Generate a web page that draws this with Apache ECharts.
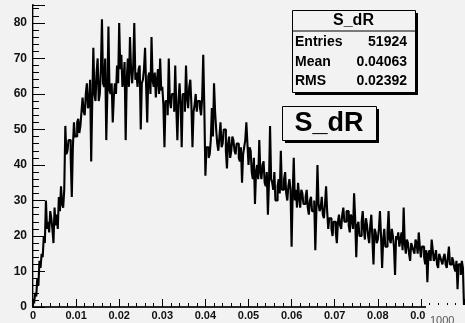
<!DOCTYPE html>
<html>
<head>
<meta charset="utf-8">
<script src="https://cdn.jsdelivr.net/npm/echarts@6/dist/echarts.min.js"></script>
<style>
  html, body { margin: 0; padding: 0; background: #f2f2f2; }
  #chart { width: 465px; height: 323px; }
</style>
</head>
<body>
<div id="chart"></div>
<script>
// S_dR histogram: 400 bins of width 0.00025 over [0, 0.1]
const binLow = 0;
const binWidth = 0.00025;
const counts = [
  2, 1, 4, 3, 8, 6, 13, 11, 15, 14, 20, 18,
  30, 22, 24, 21, 27, 25, 22, 18, 28, 23, 26, 22, 31, 27, 34, 29, 28, 33,
  51, 43, 44, 47, 47, 42, 31, 45, 52, 48, 48, 52, 53, 49, 51, 55,
  59, 55, 54, 60, 63, 56, 57, 64, 41, 58,
  73, 60, 58, 66, 70, 58, 60, 67, 81, 63, 62, 70,
  47, 60, 79, 61, 60, 63, 52, 59, 63, 60,
  68, 63, 80, 67, 71, 62, 64, 69,
  47, 64, 70, 62, 76, 67, 63, 68,
  80, 64, 66, 62, 67, 68, 50, 63,
  64, 67, 73, 62, 52, 65, 66, 60, 76, 64,
  62, 66, 59, 64, 67, 60, 70, 61, 62, 57,
  45, 58, 58, 54, 70, 58, 56, 60, 60, 55, 68, 56,
  47, 58, 63, 57, 45, 60, 60, 55, 68, 59, 56, 62,
  64, 57, 45, 55, 57, 60, 55, 58, 58, 56, 54, 59, 71, 56,
  37, 45, 45, 42, 43, 47, 56, 48, 63, 55, 50, 46,
  44, 48, 52, 45, 46, 50, 50, 44, 39, 46, 48, 42, 44, 48,
  47, 44, 43, 46, 46, 42, 41, 45, 35, 43, 45, 47, 52, 46,
  40, 45, 44, 38, 36, 42, 29, 38, 40, 36, 47, 38, 36, 40, 41, 35, 34, 38, 26, 35,
  51, 36, 35, 33, 38, 30, 30, 34, 36, 32, 44, 33, 33, 36, 38, 32, 30, 34, 36, 33,
  17, 32, 42, 30, 33, 28, 35, 31, 28, 33, 32, 29, 29, 31, 33, 28, 26, 30, 31, 27,
  27, 30, 16, 27, 40, 29, 27, 28, 31, 26, 25, 29, 34, 27, 22, 25, 25, 22, 20, 24,
  24, 21, 18, 24, 26, 23, 22, 26, 28, 24, 24, 27, 27, 23, 21, 26, 25, 22, 32, 25,
  14, 23, 24, 20, 20, 24, 27, 22, 19, 25, 23, 20, 18, 23, 26, 19, 12, 22, 21, 18,
  19, 22, 27, 20, 11, 19, 22, 17, 17, 21, 27, 19, 18, 22, 20, 17, 9, 20, 19, 21,
  17, 19, 21, 16, 28, 18, 15, 19, 18, 15, 13, 18, 17, 16, 15, 19, 18, 15, 21, 17,
  14, 17, 17, 14, 12, 16, 7, 15, 16, 13, 19, 16, 13, 14, 16, 12, 11, 15, 14, 13,
  12, 14, 15, 12, 11, 14, 17, 12, 12, 14, 13, 11, 10, 13, 5, 12, 12, 9, 13, 11
];
const xTickLabels = ['0', '0.01', '0.02', '0.03', '0.04', '0.05', '0.06', '0.07', '0.08', '0.09'];
const yTickLabels = ['0', '10', '20', '30', '40', '50', '60', '70', '80'];
const statNames = ['Entries', 'Mean', 'RMS'];
const statValues = ['51924', '0.04063', '0.02392'];
const histTitle = 'S_dR';

// outline of the histogram: rise from zero, one step per bin, drop back to zero
const xHigh = binLow + counts.length * binWidth;
const outline = [[binLow, 0]];
counts.forEach((c, i) => outline.push([binLow + i * binWidth, c]));
outline.push([xHigh, counts[counts.length - 1]]);
outline.push([xHigh, 0]);
const yMax = Math.max(...counts) * 1.05;

const bg = '#f2f2f2';
const font = '"Liberation Sans", Arial, Helvetica, sans-serif';

const chart = echarts.init(document.getElementById('chart'));
chart.setOption({
  animation: false,
  backgroundColor: bg,
  grid: { left: 33, right: 1, top: 5, bottom: 16 },
  xAxis: [{
    type: 'value', min: binLow, max: xHigh, interval: 0.01,
    axisLine: { show: true, lineStyle: { color: '#000', width: 2 } },
    axisTick: { inside: true, length: 8, lineStyle: { color: '#000', width: 1 } },
    minorTick: { show: true, splitNumber: 5, length: 4, lineStyle: { color: '#000', width: 1 } },
    splitLine: { show: false },
    axisLabel: {
      showMaxLabel: false, margin: 3,
      color: '#111', fontFamily: font, fontWeight: 'bold', fontSize: 11,
      formatter: v => { const k = Math.round(v / 0.01); return xTickLabels[k] !== undefined ? xTickLabels[k] : ''; }
    }
  }, {
    type: 'value', position: 'top', min: binLow, max: xHigh,
    axisLine: { show: true, lineStyle: { color: '#333', width: 1.5 } },
    axisTick: { show: false }, axisLabel: { show: false }, splitLine: { show: false }
  }],
  yAxis: [{
    type: 'value', min: 0, max: yMax, interval: 10,
    axisLine: { show: true, lineStyle: { color: '#000', width: 2 } },
    axisTick: { inside: true, length: 12, lineStyle: { color: '#000', width: 1 } },
    minorTick: { show: true, splitNumber: 5, length: 6, lineStyle: { color: '#000', width: 1 } },
    splitLine: { show: false },
    axisLabel: {
      showMaxLabel: false, margin: 6,
      color: '#111', fontFamily: font, fontWeight: 'bold', fontSize: 12,
      formatter: v => { const k = Math.round(v / 10); return (Math.abs(v - k * 10) < 1e-6 && yTickLabels[k] !== undefined) ? yTickLabels[k] : ''; }
    }
  }, {
    type: 'value', position: 'right', min: 0, max: yMax,
    axisLine: { show: true, lineStyle: { color: '#999', width: 1 } },
    axisTick: { show: false }, axisLabel: { show: false }, splitLine: { show: false }
  }],
  series: [{
    type: 'line',
    step: 'end',
    data: outline,
    showSymbol: false,
    symbol: 'none',
    lineStyle: { color: '#000', width: 2.1 },
    clip: true,
    z: 3
  }],
  graphic: [
    // statistics box
    { type: 'rect', left: 295, top: 13, shape: { width: 123, height: 82 }, style: { fill: '#000' }, z: 10 },
    { type: 'rect', left: 292, top: 10, shape: { width: 123, height: 82 }, style: { fill: bg, stroke: '#000', lineWidth: 1 }, z: 11 },
    { type: 'line', shape: { x1: 292, y1: 31, x2: 415, y2: 31 }, style: { stroke: '#000', lineWidth: 1 }, z: 12 },
    { type: 'text', x: 353.5, y: 20.5, style: { text: histTitle, font: 'bold 16px ' + font, fill: '#000', textAlign: 'center', textVerticalAlign: 'middle' }, z: 12 },
    ...statNames.map((n, i) => ({ type: 'text', x: 295, y: 42 + i * 19.8, style: { text: n, font: 'bold 14px ' + font, fill: '#000', textAlign: 'left', textVerticalAlign: 'middle' }, z: 12 })),
    ...statValues.map((v, i) => ({ type: 'text', x: 407, y: 42 + i * 19.8, style: { text: v, font: 'bold 14px ' + font, fill: '#000', textAlign: 'right', textVerticalAlign: 'middle' }, z: 12 })),
    // title box
    { type: 'rect', left: 285, top: 109, shape: { width: 94, height: 34 }, style: { fill: '#000' }, z: 10 },
    { type: 'rect', left: 282, top: 106, shape: { width: 94, height: 34 }, style: { fill: bg, stroke: '#000', lineWidth: 1 }, z: 11 },
    { type: 'text', x: 329, y: 123.5, style: { text: histTitle, font: 'bold 27px ' + font, fill: '#000', textAlign: 'center', textVerticalAlign: 'middle' }, z: 12 },
    // lower-right corner pad
    { type: 'rect', left: 426, top: 305, shape: { width: 40, height: 18 }, style: { fill: bg }, z: 20 },
    { type: 'text', x: 430, y: 315, style: { text: '1000', font: '11px ' + font, fill: '#555', textAlign: 'left', textVerticalAlign: 'top' }, z: 21 }
  ]
});
</script>
</body>
</html>
